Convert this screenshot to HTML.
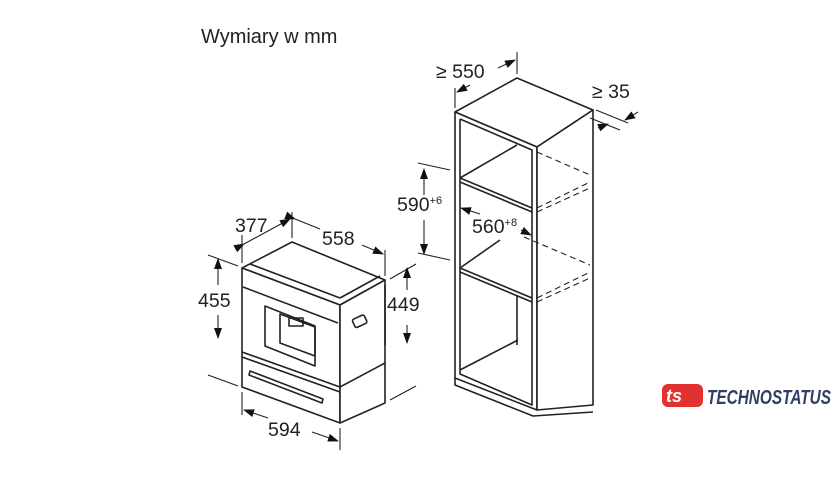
<!DOCTYPE html>
<html><head><meta charset="utf-8"><style>
html,body{margin:0;padding:0;background:#fff;}
svg{display:block;font-family:"Liberation Sans",sans-serif;}
</style></head><body>
<svg width="840" height="490" viewBox="0 0 840 490" xmlns="http://www.w3.org/2000/svg">
<defs>
<marker id="a" markerWidth="11" markerHeight="8" refX="10" refY="4" orient="auto" markerUnits="userSpaceOnUse"><path d="M0,0 L11,4 L0,8 z" fill="#111"/></marker>
</defs>
<text x="201" y="43" font-size="20" fill="#222">Wymiary w mm</text>

<g stroke="#222" stroke-width="1.6" fill="none" stroke-linejoin="round">
<!-- appliance -->
<polygon points="242,268 292,242 385,280 340,305" fill="#fff"/>
<polygon points="242,268 340,305 340,423 242,387" fill="#fff"/>
<polygon points="340,305 385,280 385,403 340,423" fill="#fff"/>
<line x1="243" y1="287" x2="338" y2="323"/>
<line x1="250" y1="264" x2="340" y2="298"/>
<line x1="340" y1="298" x2="380" y2="276"/>
<line x1="242" y1="352" x2="340" y2="387"/>
<line x1="242" y1="357" x2="340" y2="392"/>
<line x1="340" y1="387" x2="385" y2="363"/>
<line x1="385" y1="285" x2="385" y2="345"/>
<polygon points="265,306 315,326 315,366 265,346"/>
<polygon points="280,314 315,327 315,356 280,343"/>
<rect x="289" y="318" width="14" height="8"/>
<polygon points="250,371 323,399 322,403 249,375"/>
<rect x="353" y="317" width="13" height="9" rx="2" transform="rotate(-25 359 321)"/>

<!-- cabinet -->
<polygon points="455,112 517,78 593,110 537,147" fill="#fff"/>
<polygon points="455,112 537,147 537,410 455,378" fill="#fff"/>
<polygon points="537,147 593,110 593,405 537,410" fill="#fff"/>
<polyline points="460,119 532,150 532,405 460,374 460,119"/>
<polyline points="455,378 455,385 533,416 593,412"/>
<line x1="460" y1="178" x2="532" y2="208"/>
<line x1="460" y1="182" x2="532" y2="212"/>
<line x1="460" y1="178" x2="517" y2="145"/>
<line x1="460" y1="268" x2="532" y2="298"/>
<line x1="460" y1="272" x2="532" y2="302"/>
<line x1="460" y1="268" x2="500" y2="240"/>
<line x1="460" y1="370" x2="518" y2="340"/>
<line x1="517" y1="295" x2="517" y2="345"/>
<g stroke-dasharray="6,4" stroke-width="1.1">
<line x1="537" y1="152" x2="590" y2="175"/>
<line x1="537" y1="208" x2="590" y2="182"/>
<line x1="537" y1="212" x2="590" y2="188"/>
<line x1="524" y1="237" x2="590" y2="265"/>
<line x1="537" y1="298" x2="590" y2="272"/>
<line x1="537" y1="302" x2="590" y2="278"/>
</g>
</g>

<!-- dimensions -->
<g stroke="#222" stroke-width="1.1" fill="none">
<line x1="242" y1="263" x2="242" y2="235"/><line x1="292" y1="238" x2="292" y2="212"/>
<line x1="244" y1="244" x2="290" y2="219" marker-end="url(#a)" marker-start="url(#a)"/>
<line x1="385" y1="276" x2="385" y2="250"/>
<line x1="295" y1="219" x2="320" y2="229" marker-start="url(#a)"/><line x1="362" y1="245" x2="383" y2="254" marker-end="url(#a)"/>
<line x1="238" y1="266" x2="208" y2="255"/><line x1="238" y1="386" x2="208" y2="375"/>
<line x1="218" y1="285" x2="218" y2="259" marker-end="url(#a)"/><line x1="218" y1="315" x2="218" y2="338" marker-end="url(#a)"/>
<line x1="390" y1="279" x2="416" y2="264"/><line x1="390" y1="400" x2="416" y2="386"/>
<line x1="407" y1="290" x2="407" y2="268" marker-end="url(#a)"/><line x1="407" y1="325" x2="407" y2="343" marker-end="url(#a)"/>
<line x1="242" y1="392" x2="242" y2="415"/><line x1="340" y1="428" x2="340" y2="450"/>
<line x1="268" y1="418" x2="244" y2="410" marker-end="url(#a)"/><line x1="312" y1="432" x2="338" y2="441" marker-end="url(#a)"/>
<line x1="455" y1="108" x2="455" y2="88"/><line x1="517" y1="74" x2="517" y2="52"/>
<line x1="470" y1="85" x2="457" y2="92" marker-end="url(#a)"/><line x1="498" y1="68" x2="515" y2="60" marker-end="url(#a)"/>
<line x1="596" y1="110" x2="628" y2="123"/><line x1="590" y1="118" x2="620" y2="130"/>
<line x1="638" y1="112" x2="625" y2="120" marker-end="url(#a)"/><line x1="598" y1="128" x2="608" y2="124" marker-end="url(#a)"/>
<line x1="450" y1="170" x2="418" y2="163"/><line x1="450" y1="260" x2="418" y2="253"/>
<line x1="424" y1="195" x2="424" y2="169" marker-end="url(#a)"/><line x1="424" y1="220" x2="424" y2="254" marker-end="url(#a)"/>
<line x1="480" y1="214" x2="461" y2="208" marker-end="url(#a)"/><line x1="521" y1="230" x2="531" y2="235" marker-end="url(#a)"/>
</g>
<g font-size="19.5" fill="#222">
<text x="235" y="232">377</text>
<text x="322" y="245">558</text>
<text x="198" y="307">455</text>
<text x="387" y="311">449</text>
<text x="268" y="436">594</text>
<text x="436" y="78">≥ 550</text>
<text x="592" y="98">≥ 35</text>
<text x="397" y="211">590<tspan font-size="11" dy="-7">+6</tspan></text>
<text x="472" y="233">560<tspan font-size="11" dy="-7">+8</tspan></text>
</g>

<!-- logo -->
<g transform="translate(662,384)">
<rect x="0" y="0" width="41" height="23" rx="6" fill="#e1322f"/>
<text x="4" y="18" font-size="18" font-weight="bold" fill="#fff" font-style="italic">ts</text>
<text x="45" y="20" font-size="20" font-weight="bold" font-style="italic" fill="#2f3e63" textLength="124" lengthAdjust="spacingAndGlyphs">TECHNOSTATUS</text>
</g>
</svg>
</body></html>
